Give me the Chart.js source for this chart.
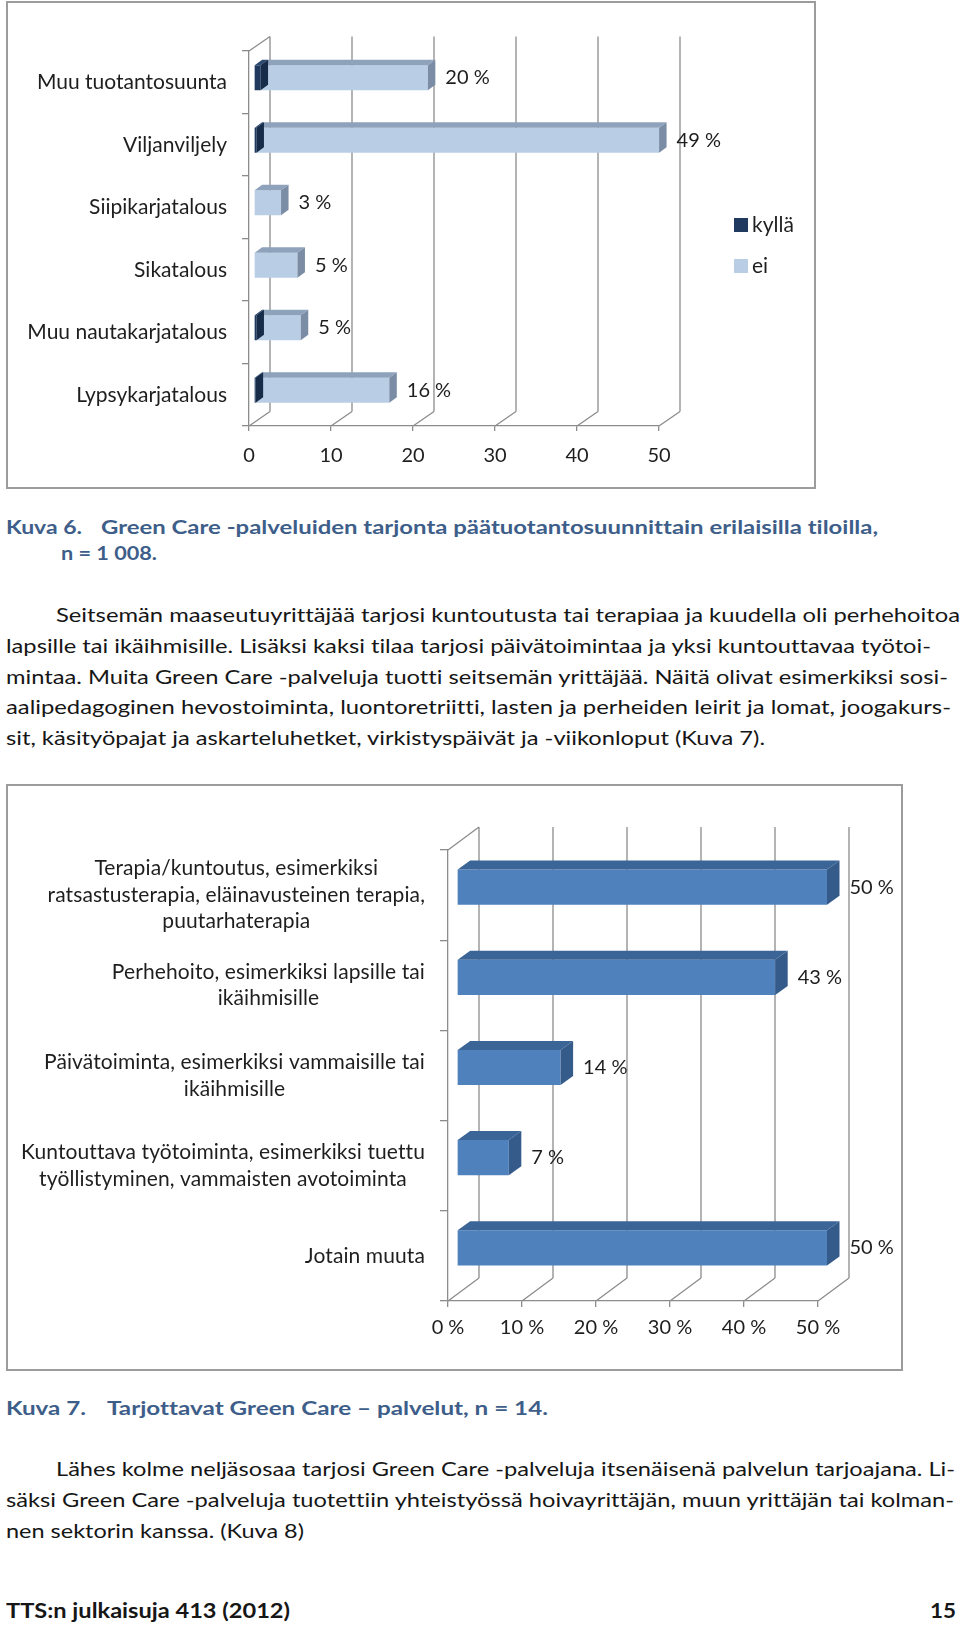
<!DOCTYPE html>
<html>
<head>
<meta charset="utf-8">
<script src="https://cdn.jsdelivr.net/npm/chart.js@4.4.1/dist/chart.umd.min.js"></script>
<style>
html, body { margin: 0; padding: 0; background: #fff; }
body { width: 960px; height: 1625px; position: relative; overflow: hidden; font-family: Lato, "Open Sans", sans-serif; color: #161616; font-variant-ligatures: none; }
.frame { position: absolute; box-sizing: border-box; border: 2px solid #9c9c9c; }
canvas { position: absolute; }
.ln { position: absolute; white-space: nowrap; line-height: 30px; height: 30px; font-size: 20px; transform-origin: 0 50%; }
.cap { font-weight: 700; color: #3e5e8a; font-size: 19px; }
.foot { font-weight: 700; font-size: 21px; color: #161616; }
</style>
</head>
<body>

<div class="frame" style="left:6px;top:1px;width:810px;height:488px"></div>
<canvas id="prodChart" width="808" height="486" style="left:7px;top:2px"></canvas>

<div class="ln cap" data-x="6" data-y="527" data-r="82">Kuva 6.</div>
<div class="ln cap" data-x="101" data-y="527" data-r="878">Green Care -palveluiden tarjonta päätuotantosuunnittain erilaisilla tiloilla,</div>
<div class="ln cap" data-x="61" data-y="553" data-r="157">n = 1 008.</div>

<div class="ln" data-x="56" data-y="614" data-r="960">Seitsemän maaseutuyrittäjää tarjosi kuntoutusta tai terapiaa ja kuudella oli perhehoitoa</div>
<div class="ln" data-x="6" data-y="645" data-r="931">lapsille tai ikäihmisille. Lisäksi kaksi tilaa tarjosi päivätoimintaa ja yksi kuntouttavaa työtoi-</div>
<div class="ln" data-x="6" data-y="676" data-r="948">mintaa. Muita Green Care -palveluja tuotti seitsemän yrittäjää. Näitä olivat esimerkiksi sosi-</div>
<div class="ln" data-x="6" data-y="706" data-r="951">aalipedagoginen hevostoiminta, luontoretriitti, lasten ja perheiden leirit ja lomat, joogakurs-</div>
<div class="ln" data-x="6" data-y="737" data-r="765">sit, käsityöpajat ja askarteluhetket, virkistyspäivät ja -viikonloput (Kuva 7).</div>

<div class="frame" style="left:6px;top:784px;width:897px;height:587px"></div>
<canvas id="serviceChart" width="895" height="585" style="left:7px;top:785px"></canvas>

<div class="ln cap" data-x="6" data-y="1408" data-r="86">Kuva 7.</div>
<div class="ln cap" data-x="107" data-y="1408" data-r="548">Tarjottavat Green Care – palvelut, n = 14.</div>

<div class="ln" data-x="56" data-y="1468" data-r="955">Lähes kolme neljäsosaa tarjosi Green Care -palveluja itsenäisenä palvelun tarjoajana. Li-</div>
<div class="ln" data-x="6" data-y="1499" data-r="954">säksi Green Care -palveluja tuotettiin yhteistyössä hoivayrittäjän, muun yrittäjän tai kolman-</div>
<div class="ln" data-x="6" data-y="1530" data-r="304">nen sektorin kanssa. (Kuva 8)</div>

<div class="ln foot" data-x="6" data-y="1610" data-r="290">TTS:n julkaisuja 413 (2012)</div>
<div class="ln foot" data-x="930" data-y="1610" data-r="956">15</div>

<script>
// Kuva 6 data
const prodCategories = ['Muu tuotantosuunta', 'Viljanviljely', 'Siipikarjatalous', 'Sikatalous', 'Muu nautakarjatalous', 'Lypsykarjatalous'];
const kyllaShare = [0.8, 0.3, 0, 0, 0.3, 0.2];
const eiShare    = [20.4, 49.1, 3.3, 5.3, 5.4, 16.3];
const prodTicks  = [0, 10, 20, 30, 40, 50];

// Kuva 7 data
const serviceCategories = [
    ['Terapia/kuntoutus, esimerkiksi', 'ratsastusterapia, eläinavusteinen terapia,', 'puutarhaterapia'],
    ['Perhehoito, esimerkiksi lapsille tai', 'ikäihmisille'],
    ['Päivätoiminta, esimerkiksi vammaisille tai', 'ikäihmisille'],
    ['Kuntouttava työtoiminta, esimerkiksi tuettu', 'työllistyminen, vammaisten avotoiminta'],
    ['Jotain muuta']
];
const serviceShare = [50, 43, 14, 7, 50];
const serviceTicks = [0, 10, 20, 30, 40, 50];

// fit text lines to the widths of the page
document.querySelectorAll('.ln').forEach(el => {
    const x = +el.dataset.x, y = +el.dataset.y, r = +el.dataset.r;
    el.style.left = x + 'px';
    el.style.top  = (y - 15) + 'px';
    const w = el.getBoundingClientRect().width;
    el.style.transform = 'scaleX(' + ((r - x) / w) + ')';
});

const FONT = 'Lato, "Open Sans", sans-serif';
Chart.defaults.font.family = FONT;
Chart.defaults.color = '#1e1e1e';

const GRID = '#8c8c8c';

function poly(ctx, pts) {
    ctx.beginPath();
    ctx.moveTo(pts[0][0], pts[0][1]);
    for (let i = 1; i < pts.length; i++) ctx.lineTo(pts[i][0], pts[i][1]);
    ctx.closePath();
    ctx.fill();
}

// fake 3d: back wall, shifted bars with top/side faces, value labels
function box3d(cfg) {
    return {
        id: 'box3d',
        beforeDatasetsDraw(chart) {
            const ctx = chart.ctx, a = chart.chartArea, xs = chart.scales.x;
            const [dx, dy] = cfg.wall;
            ctx.save();
            ctx.strokeStyle = GRID;
            ctx.lineWidth = 1.3;
            ctx.beginPath();
            xs.ticks.forEach(t => {
                const x = xs.getPixelForValue(t.value);
                ctx.moveTo(x + dx, a.top + dy);
                ctx.lineTo(x + dx, a.bottom + dy);
                ctx.moveTo(x, a.bottom);
                ctx.lineTo(x + dx, a.bottom + dy);
            });
            ctx.moveTo(a.left, a.top);
            ctx.lineTo(a.left + dx, a.top + dy);
            ctx.stroke();
            ctx.restore();
            ctx.save();
            ctx.translate(cfg.shift[0], cfg.shift[1]);
        },
        afterDatasetDraw(chart, args) {
            const ctx = chart.ctx;
            const [bx, by] = cfg.depth;
            const face = cfg.faces[args.index];
            args.meta.data.forEach(el => {
                const p = el.getProps(['x', 'y', 'base', 'height'], true);
                const l = Math.min(p.x, p.base), r = Math.max(p.x, p.base);
                if (r - l < 0.5) return;
                const t = p.y - p.height / 2, b = p.y + p.height / 2;
                ctx.fillStyle = face.top;
                poly(ctx, [[l, t], [l + bx, t + by], [r + bx, t + by], [r, t]]);
                ctx.fillStyle = face.side;
                poly(ctx, [[r, t], [r + bx, t + by], [r + bx, b + by], [r, b]]);
            });
        },
        afterDatasetsDraw(chart) {
            const ctx = chart.ctx;
            const meta = chart.getDatasetMeta(chart.data.datasets.length - 1);
            ctx.font = cfg.labelFont;
            ctx.fillStyle = '#1e1e1e';
            ctx.textAlign = 'left';
            ctx.textBaseline = 'middle';
            meta.data.forEach((el, i) => {
                const p = el.getProps(['x', 'y'], true);
                ctx.fillText(cfg.label(i), p.x + cfg.depth[0] + cfg.gap, p.y);
            });
            ctx.restore();
        }
    };
}

const prodLegend = {
    id: 'prodLegend',
    afterDraw(chart) {
        const ctx = chart.ctx;
        ctx.save();
        ctx.font = '21px ' + FONT;
        ctx.textAlign = 'left';
        ctx.textBaseline = 'middle';
        chart.data.datasets.forEach((ds, i) => {
            const y = 223 + i * 41;
            ctx.fillStyle = ds.backgroundColor;
            ctx.fillRect(727, y - 7, 14, 14);
            ctx.fillStyle = '#1e1e1e';
            ctx.fillText(ds.label, 745, y);
        });
        ctx.restore();
    }
};

const wrapLabels = {
    id: 'wrapLabels',
    afterDraw(chart) {
        const ys = chart.scales.y, ctx = chart.ctx;
        const right = chart.chartArea.left - 8 - 15;
        const lh = 26.5;
        ctx.save();
        ctx.font = '21px ' + FONT;
        ctx.letterSpacing = '0.1px';
        ctx.fillStyle = '#1e1e1e';
        ctx.textAlign = 'center';
        ctx.textBaseline = 'middle';
        serviceCategories.forEach((lines, i) => {
            const w = Math.max(...lines.map(s => ctx.measureText(s).width));
            const cx = right - w / 2;
            const y0 = ys.getPixelForValue(i) - (lines.length - 1) * lh / 2;
            lines.forEach((s, k) => ctx.fillText(s, cx, y0 + k * lh));
        });
        ctx.restore();
    }
};

new Chart(document.getElementById('prodChart'), {
    type: 'bar',
    data: {
        labels: prodCategories,
        datasets: [
            { label: 'kyllä', data: kyllaShare, backgroundColor: '#1f3a5e', clip: false },
            { label: 'ei',    data: eiShare,    backgroundColor: '#b9cde5', clip: false }
        ]
    },
    options: {
        indexAxis: 'y',
        responsive: false,
        devicePixelRatio: 1,
        animation: false,
        events: [],
        layout: { padding: { top: 49, right: 156, bottom: 0, left: 0 } },
        plugins: { legend: { display: false }, tooltip: { enabled: false } },
        datasets: { bar: { categoryPercentage: 1, barPercentage: 0.4 } },
        scales: {
            x: {
                stacked: true,
                min: prodTicks[0],
                max: prodTicks[prodTicks.length - 1],
                ticks: { stepSize: prodTicks[1] - prodTicks[0], padding: 13, font: { size: 20 } },
                grid: { drawOnChartArea: false, drawTicks: true, tickLength: 5, color: GRID, lineWidth: 1.3 },
                border: { display: true, color: GRID, width: 1.3 },
                afterFit(s) { s.height = 62; }
            },
            y: {
                stacked: true,
                ticks: { padding: 15, font: { size: 21 } },
                grid: { drawOnChartArea: false, drawTicks: true, tickLength: 7, color: GRID, lineWidth: 1.3, offset: true },
                border: { display: true, color: GRID, width: 1.3 },
                afterFit(s) { s.width = 242; }
            }
        }
    },
    plugins: [box3d({
        wall: [21, -14.5],
        shift: [5, -4.5],
        depth: [7.5, -5.5],
        gap: 10,
        labelFont: '20px ' + FONT,
        label: i => Math.round(eiShare[i]) + ' %',
        faces: [
            { top: '#2c4a70', side: '#162c48' },
            { top: '#8fa2bc', side: '#7b8ca5' }
        ]
    }), prodLegend]
});

new Chart(document.getElementById('serviceChart'), {
    type: 'bar',
    data: {
        labels: serviceCategories,
        datasets: [
            { label: 'palvelut', data: serviceShare, backgroundColor: '#4f81bd', clip: false }
        ]
    },
    options: {
        indexAxis: 'y',
        responsive: false,
        devicePixelRatio: 1,
        animation: false,
        events: [],
        layout: { padding: { top: 65, right: 84, bottom: 0, left: 0 } },
        plugins: { legend: { display: false }, tooltip: { enabled: false } },
        datasets: { bar: { categoryPercentage: 1, barPercentage: 0.39 } },
        scales: {
            x: {
                min: serviceTicks[0],
                max: serviceTicks[serviceTicks.length - 1],
                ticks: { stepSize: serviceTicks[1] - serviceTicks[0], padding: 9, font: { size: 20 }, callback: v => v + ' %' },
                grid: { drawOnChartArea: false, drawTicks: true, tickLength: 6, color: GRID, lineWidth: 1.3 },
                border: { display: true, color: GRID, width: 1.3 },
                afterFit(s) { s.height = 69; }
            },
            y: {
                ticks: { display: false },
                grid: { drawOnChartArea: false, drawTicks: true, tickLength: 8, color: GRID, lineWidth: 1.3, offset: true },
                border: { display: true, color: GRID, width: 1.3 },
                afterFit(s) { s.width = 441; }
            }
        }
    },
    plugins: [box3d({
        wall: [31, -23],
        shift: [9, -8],
        depth: [12.5, -9],
        gap: 10,
        labelFont: '20px ' + FONT,
        label: i => serviceShare[i] + ' %',
        faces: [
            { top: '#3c6597', side: '#345b8a' }
        ]
    }), wrapLabels]
});
</script>
</body>
</html>
